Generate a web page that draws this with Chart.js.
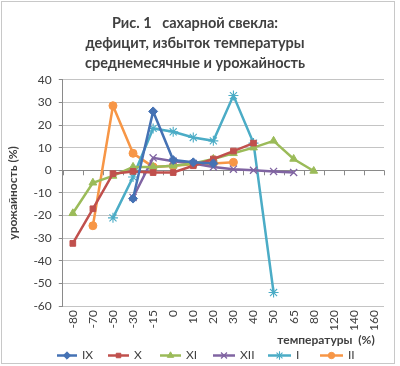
<!DOCTYPE html>
<html>
<head>
<meta charset="utf-8">
<script src="https://cdn.jsdelivr.net/npm/chart.js@4.4.0/dist/chart.umd.min.js"></script>
<style>
  html, body { margin: 0; padding: 0; background: #fff; }
  #wrap { width: 400px; height: 366px; position: relative; }
</style>
</head>
<body>
<div id="wrap"><canvas id="chart"></canvas></div>
<script>
// категории по оси X (температура, %)
const categories = ["-80", "-70", "-50", "-30", "-15", "0", "10", "20", "30", "40", "50", "65", "80", "120", "140", "160"];

// урожайность (%) по месяцам
const seriesIX = [null, null, null, -12.5, 26, 4.5, 3.5, 3, null, null, null, null, null, null, null, null];
const seriesX = [-32.3, -17, -1.5, -0.5, -1, -1, 2, 5, 8.5, 12, null, null, null, null, null, null];
const seriesXI = [-19, -5.5, -2.5, 1.5, 1.5, 2, 3, 5, 7.5, 10, 13, 5, -0.3, null, null, null];
const seriesXII = [null, null, null, -12, 5.5, 4, 3, 1.5, 0.5, 0, -0.5, -1, null, null, null, null];
const seriesI = [null, null, -21, -3, 18.5, 17, 14.5, 13, 33, 12, -54, null, null, null, null, null];
const seriesII = [null, -24.5, 28.5, 7.5, 1.5, 2, 2.7, 3, 3.5, null, null, null, null, null, null, null];

const yTicks = { min: -60, max: 40, step: 10 };

const FONT = "Lato, 'Open Sans', sans-serif";
const TEXT = "#404040";

const mk = (label, data, color, style, radius, bw) => ({
  label, data,
  borderColor: color,
  backgroundColor: color,
  pointStyle: style,
  pointRadius: radius,
  pointBorderWidth: bw,
  borderWidth: 2.5,
  tension: 0,
  spanGaps: false,
});

const datasets = [
  mk("IX", seriesIX, "#4572b4", "rectRot", 4.5, 1),
  mk("X", seriesX, "#c0504d", "rect", 4, 1),
  mk("XI", seriesXI, "#9bbb59", "triangle", 4.5, 1),
  mk("XII", seriesXII, "#8064a2", "crossRot", 5, 1.3),
  mk("I", seriesI, "#4bacc6", "star", 5, 1.1),
  mk("II", seriesII, "#f79646", "circle", 4, 1),
];

// ось X проходит через 0, рамка, подпись оси X и легенда
const extras = {
  id: "extras",
  beforeDatasetsDraw(chart) {
    const { ctx, chartArea, scales } = chart;
    const y0 = scales.y.getPixelForValue(0);
    ctx.save();
    ctx.strokeStyle = "#8a8a8a";
    ctx.lineWidth = 1;
    ctx.beginPath();
    ctx.moveTo(chartArea.left, Math.round(y0) + 0.5);
    ctx.lineTo(chartArea.right, Math.round(y0) + 0.5);
    const w = (chartArea.right - chartArea.left) / categories.length;
    for (let i = 0; i <= categories.length; i++) {
      const px = Math.round(chartArea.left + w * i) + 0.5;
      ctx.moveTo(px, y0);
      ctx.lineTo(px, y0 + 5);
    }
    ctx.stroke();
    ctx.restore();
  },
  afterDraw(chart) {
    const { ctx } = chart;
    ctx.save();
    // рамка
    ctx.strokeStyle = "#c8c8c8";
    ctx.lineWidth = 1;
    ctx.strokeRect(1.5, 1.5, 393, 362);

    // подпись оси X
    ctx.fillStyle = TEXT;
    ctx.font = "bold 12px " + FONT;
    ctx.textAlign = "center";
    ctx.textBaseline = "middle";
    ctx.fillText("температуры  (%)", 326, 340);

    // легенда
    const items = [
      [57, 82], [108, 134], [160, 186], [213, 240], [268, 296], [320, 348],
    ];
    ctx.font = "12px " + FONT;
    ctx.textAlign = "left";
    datasets.forEach((ds, i) => {
      const [lx, tx] = items[i];
      const ly = 355.5;
      ctx.strokeStyle = ds.borderColor;
      ctx.fillStyle = ds.borderColor;
      ctx.lineWidth = 2.5;
      ctx.beginPath();
      ctx.moveTo(lx, ly);
      ctx.lineTo(tx - 5, ly);
      ctx.stroke();
      ctx.lineWidth = ds.pointBorderWidth;
      Chart.helpers.drawPoint(ctx, {
        pointStyle: ds.pointStyle,
        radius: ds.pointRadius - 0.8,
        rotation: 0,
        borderWidth: ds.pointBorderWidth,
      }, (lx + tx - 5) / 2, ly);
      ctx.fillStyle = TEXT;
      ctx.fillText(ds.label, tx, ly);
    });
    ctx.restore();
  },
};

new Chart(document.getElementById("chart"), {
  type: "line",
  data: { labels: categories, datasets },
  options: {
    responsive: true,
    maintainAspectRatio: false,
    animation: false,
    layout: { padding: { left: 6, right: 16, top: 4, bottom: 31 } },
    plugins: {
      legend: { display: false },
      tooltip: { enabled: false },
      title: {
        display: true,
        text: ["Рис. 1   сахарной свекла:", "дефицит, избыток температуры", "среднемесячные и урожайность"],
        color: TEXT,
        font: { family: FONT, size: 14.5, weight: "bold", lineHeight: 1.35 },
        padding: { top: 10, bottom: 7 },
      },
    },
    scales: {
      x: {
        type: "category",
        offset: true,
        grid: { display: false, drawTicks: false },
        border: { display: false },
        ticks: {
          color: TEXT,
          font: { family: FONT, size: 12 },
          minRotation: 90,
          maxRotation: 90,
          padding: 4,
          autoSkip: false,
        },
      },
      y: {
        min: yTicks.min,
        max: yTicks.max,
        ticks: {
          stepSize: yTicks.step,
          color: TEXT,
          font: { family: FONT, size: 12 },
          padding: 7,
        },
        grid: { color: "#c4c4c4", tickColor: "#8a8a8a", tickLength: 4 },
        border: { display: true, color: "#8a8a8a" },
        title: {
          display: true,
          text: "урожайность (%)",
          color: TEXT,
          font: { family: FONT, size: 12, weight: "bold" },
          padding: { top: 0, bottom: 6 },
        },
      },
    },
  },
  plugins: [extras],
});
</script>
</body>
</html>
